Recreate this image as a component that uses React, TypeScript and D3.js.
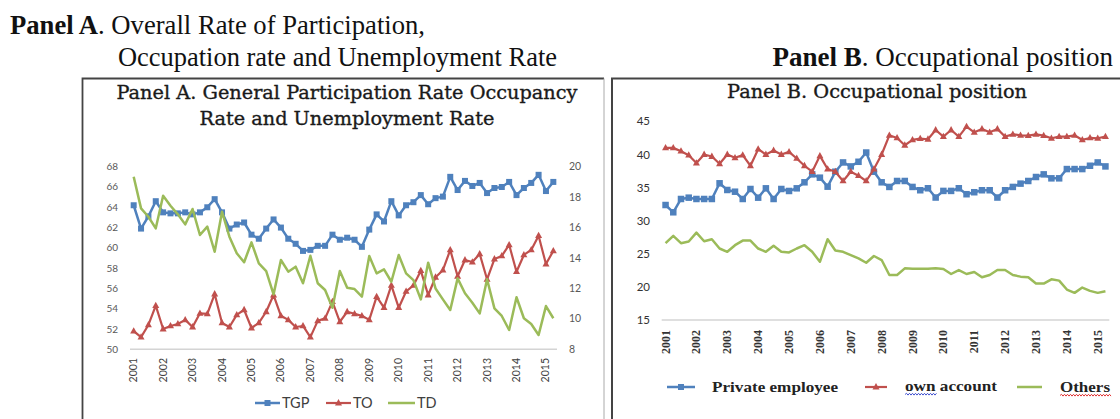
import React from "react";
import * as d3 from "d3";

const years = ["2001","2002","2003","2004","2005","2006","2007","2008","2009","2010","2011","2012","2013","2014","2015"];
const quarterNames = ["I","II","III","IV"];
const quarters = years.flatMap((y) => quarterNames.map((q) => `${y}-${q}`)).slice(0, 58);

// Panel A (left axis: TGP, TO; right axis: TD)
const tgp = [64.2,61.9,63.1,64.6,63.5,63.4,63.4,63.5,63.3,63.5,64.0,64.8,63.5,61.9,62.3,62.5,61.3,60.9,61.9,62.8,62.0,60.9,60.4,59.7,59.8,60.2,60.2,61.3,60.8,61.0,60.8,60.1,61.8,63.3,62.6,64.6,63.2,64.2,64.5,65.2,64.3,64.9,65.05,67.0,65.7,66.6,66.1,66.4,65.4,65.9,66.0,66.5,65.2,65.9,66.4,67.2,65.6,66.5];
const to = [51.8,51.2,52.4,54.3,52.0,52.3,52.5,52.9,52.2,53.55,53.5,55.45,52.6,52.2,53.4,53.9,52.1,52.6,53.7,55.35,53.3,52.9,52.2,52.3,51.2,52.8,53.05,54.7,52.7,53.7,53.5,53.3,52.9,55.2,54.1,56.3,54.1,55.7,56.3,57.75,55.35,57.1,57.8,59.8,57.2,58.8,58.6,59.4,56.9,58.9,59.2,60.3,57.65,59.3,59.8,61.2,58.4,59.7];
const td = [19.34,17.26,16.71,15.95,18.09,17.43,16.87,16.21,17.22,15.51,16.06,14.41,17.04,15.4,14.31,13.72,15.03,13.65,13.14,11.61,13.87,13.1,13.43,12.34,14.15,12.34,11.9,10.73,13.14,12.05,11.96,11.46,14.13,12.99,13.25,12.44,14.2,12.99,12.55,11.28,13.69,12.0,11.28,10.58,12.66,11.68,11.06,10.36,12.6,10.69,10.19,9.27,11.42,10.04,9.66,8.94,10.84,10.04];
const leftTicksA = [50,52,54,56,58,60,62,64,66,68];
const rightTicksA = [8,10,12,14,16,18,20];

// Panel B
const privateEmployee = [32.37,31.27,33.28,33.48,33.28,33.28,33.28,35.65,34.64,34.38,33.28,34.79,33.48,34.89,33.28,34.79,34.49,34.89,35.8,37.0,36.5,35.14,37.4,38.8,38.2,38.9,40.3,37.4,35.8,35.1,36.0,36.0,35.1,34.6,34.9,33.5,34.5,34.5,34.9,34.0,34.3,34.6,34.6,33.5,34.6,35.1,35.6,36.0,36.6,37.0,36.4,36.4,37.8,37.8,37.8,38.3,38.8,38.2];
const ownAccount = [41.0,41.0,40.5,39.9,38.7,40.0,39.7,38.6,40.0,39.5,39.9,38.3,40.8,40.0,40.6,40.0,40.4,39.4,38.3,37.4,39.8,37.8,37.4,36.0,37.4,36.8,36.0,37.8,40.0,42.9,42.5,41.4,42.2,42.4,42.3,43.7,42.7,43.7,42.7,44.2,43.35,43.85,43.35,43.85,42.7,43.05,42.9,42.85,43.05,42.85,42.45,42.7,42.7,42.9,42.2,42.5,42.45,42.7];
const others = [26.6,27.7,26.6,26.85,28.2,26.9,27.2,25.8,25.3,26.3,27.0,27.0,25.8,25.3,26.2,25.3,25.2,25.8,26.3,25.3,23.8,27.2,25.5,25.3,24.8,24.3,23.65,24.67,24.06,21.8,21.8,22.8,22.75,22.75,22.75,22.8,22.7,21.95,22.55,21.95,22.25,21.45,21.8,22.55,22.55,21.8,21.55,21.45,20.5,20.5,21.15,20.95,19.6,19.1,19.9,19.4,19.1,19.35];
const ticksB = [15,20,25,30,35,40,45];

const BLUE = "#4F81BD";
const RED = "#C0504D";
const GREEN = "#9BBB59";
const SANS = "Lato, 'Open Sans', sans-serif";
const SERIF = "'Liberation Serif', 'Times New Roman', serif";
const TSERIF = "'DejaVu Serif', serif";

function Square({ x, y, s = 6.5 }: { x: number; y: number; s?: number }) {
  return <rect x={x - s / 2} y={y - s / 2} width={s} height={s} fill={BLUE} />;
}
function Tri({ x, y, s = 7.5 }: { x: number; y: number; s?: number }) {
  const h = s * 0.9;
  return <path d={`M${x},${y - h * 0.62}L${x + s / 2},${y + h * 0.38}L${x - s / 2},${y + h * 0.38}Z`} fill={RED} />;
}

function wavy(x0: number, x1: number, y: number) {
  let d = `M${x0},${y}`;
  let up = true;
  for (let x = x0 + 1.5; x <= x1; x += 1.5) {
    d += `L${x},${up ? y - 1.2 : y + 0.6}`;
    up = !up;
  }
  return d;
}

export default function App() {
  // Panel A scales
  const xA = d3.scaleBand<string>().domain(quarters).range([130, 557]);
  const cxA = (i: number) => (xA(quarters[i]) as number) + xA.bandwidth() / 2;
  const yL = d3.scaleLinear().domain([50, 68]).range([349.3, 166.7]);
  const yR = d3.scaleLinear().domain([8, 20]).range([349.3, 166.7]);
  const lineL = d3.line<number>().x((_, i) => cxA(i)).y((d) => yL(d));
  const lineR = d3.line<number>().x((_, i) => cxA(i)).y((d) => yR(d));

  // Panel B scales
  const xB = d3.scaleBand<string>().domain(quarters).range([661.7, 1109.3]);
  const cxB = (i: number) => (xB(quarters[i]) as number) + xB.bandwidth() / 2;
  const yB = d3.scaleLinear().domain([15, 45]).range([320, 121.4]);
  const lineB = d3.line<number>().x((_, i) => cxB(i)).y((d) => yB(d));

  const yearIdx = years.map((y) => quarters.indexOf(`${y}-I`));

  return (
    <svg width={1120} height={419} style={{ display: "block", position: "absolute", left: 0, top: 0 }}>
      <rect x={0} y={0} width={1120} height={419} fill="#fff" />

      {/* Header texts */}
      <text x={10} y={34} fontFamily={SERIF} fontSize={27} fill="#111" textLength={415} lengthAdjust="spacingAndGlyphs">
        <tspan fontWeight="bold">Panel A</tspan>. Overall Rate of Participation,
      </text>
      <text x={118} y={66} fontFamily={SERIF} fontSize={27} fill="#111" textLength={439} lengthAdjust="spacingAndGlyphs">
        Occupation rate and Unemployment Rate
      </text>
      <text x={1113} y={66} textAnchor="end" fontFamily={SERIF} fontSize={27} fill="#111">
        <tspan fontWeight="bold">Panel B</tspan>. Occupational position
      </text>

      {/* Frames */}
      <path d="M82.5,440 V78.5 H604" fill="none" stroke="#444" strokeWidth={1.8} />
      <path d="M604,78.5 V440" fill="none" stroke="#aaa" strokeWidth={1} />
      <path d="M612,440 V78.5 H1125" fill="none" stroke="#444" strokeWidth={2} />

      {/* ===== Panel A ===== */}
      <g fill="#1a1a1a" stroke="#1a1a1a" strokeWidth={0.35}>
        <text x={347} y={99} textAnchor="middle" fontFamily={TSERIF} fontSize={19} textLength={461} lengthAdjust="spacingAndGlyphs">
          Panel A. General Participation Rate Occupancy
        </text>
        <text x={347} y={125} textAnchor="middle" fontFamily={TSERIF} fontSize={19} textLength={295} lengthAdjust="spacingAndGlyphs">
          Rate and Unemployment Rate
        </text>
        <text x={877} y={98} textAnchor="middle" fontFamily={TSERIF} fontSize={18} textLength={300} lengthAdjust="spacingAndGlyphs">
          Panel B. Occupational position
        </text>
      </g>

      <line x1={130} x2={557} y1={yL(50)} y2={yL(50)} stroke="#d4d4d4" strokeWidth={1.5} />
      {leftTicksA.map((t) => (
        <text key={`l${t}`} x={118} y={yL(t) + 3.5} textAnchor="end" fontFamily={SANS} fontSize={10} fill="#595959">{t}</text>
      ))}
      {rightTicksA.map((t) => (
        <text key={`r${t}`} x={569} y={yR(t) + 3.5} fontFamily={SANS} fontSize={10.5} fill="#595959">{t}</text>
      ))}
      {yearIdx.map((qi, k) => (
        <text key={`ya${k}`} transform={`translate(${cxA(qi) + 3.5},358) rotate(-90)`} textAnchor="end" fontFamily={SANS} fontSize={10.5} fill="#404040">{years[k]}</text>
      ))}

      <path d={lineL(tgp) as string} fill="none" stroke={BLUE} strokeWidth={2.5} strokeLinejoin="round" />
      {tgp.map((v, i) => <Square key={`tg${i}`} x={cxA(i)} y={yL(v)} s={6} />)}
      <path d={lineL(to) as string} fill="none" stroke={RED} strokeWidth={2.2} strokeLinejoin="round" />
      {to.map((v, i) => <Tri key={`to${i}`} x={cxA(i)} y={yL(v)} s={7} />)}
      <path d={lineR(td) as string} fill="none" stroke={GREEN} strokeWidth={2.5} strokeLinejoin="round" />

      {/* Legend A */}
      <line x1={255} x2={280} y1={403} y2={403} stroke={BLUE} strokeWidth={2.5} />
      <Square x={267.5} y={403} s={6} />
      <text x={282} y={408} fontFamily={SANS} fontSize={14.5} fill="#404040">TGP</text>
      <line x1={326} x2={351} y1={403} y2={403} stroke={RED} strokeWidth={2.2} />
      <Tri x={338.5} y={403} s={7} />
      <text x={353} y={408} fontFamily={SANS} fontSize={14.5} fill="#404040">TO</text>
      <line x1={388} x2={415} y1={403} y2={403} stroke={GREEN} strokeWidth={2.5} />
      <text x={417} y={408} fontFamily={SANS} fontSize={14.5} fill="#404040">TD</text>

      {/* ===== Panel B ===== */}
      <line x1={661.7} x2={1109.3} y1={yB(15)} y2={yB(15)} stroke="#d4d4d4" strokeWidth={1.5} />
      {ticksB.map((t) => (
        <text key={`b${t}`} x={650} y={yB(t) + 4} textAnchor="end" fontFamily={SANS} fontSize={11.5} fill="#333">{t}</text>
      ))}
      {yearIdx.map((qi, k) => (
        <text key={`yb${k}`} transform={`translate(${cxB(qi) + 4},330) rotate(-90)`} textAnchor="end" fontFamily={SERIF} fontWeight="bold" fontSize={12} fill="#333">{years[k]}</text>
      ))}

      <path d={lineB(privateEmployee) as string} fill="none" stroke={BLUE} strokeWidth={2.5} strokeLinejoin="round" />
      {privateEmployee.map((v, i) => <Square key={`pe${i}`} x={cxB(i)} y={yB(v)} s={6.5} />)}
      <path d={lineB(ownAccount) as string} fill="none" stroke={RED} strokeWidth={2.2} strokeLinejoin="round" />
      {ownAccount.map((v, i) => <Tri key={`oa${i}`} x={cxB(i)} y={yB(v)} s={7} />)}
      <path d={lineB(others) as string} fill="none" stroke={GREEN} strokeWidth={2.5} strokeLinejoin="round" />

      {/* Legend B */}
      <line x1={667} x2={695} y1={387} y2={387} stroke={BLUE} strokeWidth={2.5} />
      <Square x={681} y={387} s={6} />
      <text x={712} y={392} fontFamily={SERIF} fontWeight="bold" fontSize={15.5} fill="#222" textLength={126} lengthAdjust="spacingAndGlyphs">Private employee</text>
      <line x1={865} x2={887} y1={387} y2={387} stroke={RED} strokeWidth={2.2} />
      <Tri x={876} y={387} s={7} />
      <text x={905} y={391} fontFamily={SERIF} fontWeight="bold" fontSize={15.5} fill="#222" textLength={92} lengthAdjust="spacingAndGlyphs">own account</text>
      <path d={wavy(905, 937, 394.5)} fill="none" stroke="#3344cc" strokeWidth={0.9} />
      <line x1={1017} x2={1042} y1={387} y2={387} stroke={GREEN} strokeWidth={2.5} />
      <text x={1060} y={392} fontFamily={SERIF} fontWeight="bold" fontSize={15.5} fill="#222" textLength={50} lengthAdjust="spacingAndGlyphs">Others</text>
      <path d={wavy(1060, 1111, 395.5)} fill="none" stroke="#dd2222" strokeWidth={0.9} />
    </svg>
  );
}
